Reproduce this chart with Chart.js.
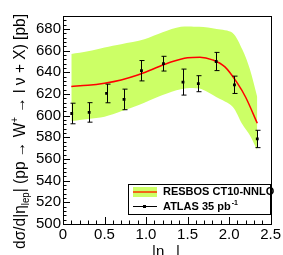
<!DOCTYPE html>
<html>
<head>
<meta charset="utf-8">
<script src="https://cdn.jsdelivr.net/npm/chart.js@4.4.0/dist/chart.umd.min.js"></script>
<style>
  html, body { margin: 0; padding: 0; background: #fff; }
  #wrap { width: 283px; height: 255px; position: relative; }
</style>
</head>
<body>
<div id="wrap"><canvas id="c"></canvas></div>
<script>
// ATLAS 35 pb-1 points
var etaBins = [0.105, 0.315, 0.525, 0.735, 0.945, 1.21, 1.445, 1.63, 1.845, 2.065, 2.34];
var xsec    = [602, 603, 620.5, 615, 641.5, 648, 631, 629.5, 650, 628.5, 578.5];
var xsecErr = [9.5, 9, 8.6, 9.5, 9.4, 6.8, 12, 7.4, 8.4, 8, 8];

// RESBOS CT10-NNLO central curve
var curveEta = [0.1, 0.3, 0.5, 0.7, 0.9, 1.1, 1.3, 1.5, 1.65, 1.8, 1.95, 2.1, 2.2, 2.34];
var curveVal = [627, 628, 630, 633, 637.5, 643.5, 649.5, 653.5, 654, 651.5, 645, 630, 617, 593];

// RESBOS uncertainty band
var bandEta = [0.1, 0.3, 0.5, 0.7, 0.98, 1.2, 1.42, 1.64, 1.85, 2.04, 2.16, 2.25, 2.34];
var bandHi  = [657, 659.5, 663, 666, 670.5, 677, 682, 682, 680, 676.5, 661, 643, 617];
var bandLo  = [595, 597, 599, 604, 612, 619, 624.5, 625, 617, 608.5, 592, 582, 568];

var xTicks = [0, 0.5, 1, 1.5, 2, 2.5];
var yTicks = [500, 520, 540, 560, 580, 600, 620, 640, 660, 680];

function pts(xs, ys) {
    return xs.map(function(x, i) { return {x: x, y: ys[i]} })
}

var bandGreen = '#ccff66';
var font = '"Liberation Sans", Arial, sans-serif';

var rootStyle = {
    id: 'rootStyle',
    afterDatasetsDraw: function(chart) {
        var ctx = chart.ctx, a = chart.chartArea;
        var xs = chart.scales.x, ys = chart.scales.y;
        ctx.save();
        // error bars
        ctx.strokeStyle = '#000';
        ctx.lineWidth = 1;
        etaBins.forEach(function(e, i) {
            var px = Math.round(xs.getPixelForValue(e)) + 0.5;
            var top = ys.getPixelForValue(xsec[i] + xsecErr[i]);
            var bot = ys.getPixelForValue(xsec[i] - xsecErr[i]);
            ctx.beginPath();
            ctx.moveTo(px, top); ctx.lineTo(px, bot);
            ctx.moveTo(px - 2, top); ctx.lineTo(px + 3, top);
            ctx.moveTo(px - 2, bot); ctx.lineTo(px + 3, bot);
            ctx.stroke();
        });
        // frame
        ctx.strokeRect(Math.round(a.left) + 0.5, Math.round(a.top) + 0.5,
                       Math.round(a.right - a.left), Math.round(a.bottom - a.top));
        // ticks inside the frame
        ctx.beginPath();
        for (var v = 500; v <= 692; v += 4) {
            var py = Math.round(ys.getPixelForValue(v)) + 0.5;
            var len = (v % 20 === 0) ? 7 : 3.5;
            ctx.moveTo(a.left, py); ctx.lineTo(a.left + len, py);
        }
        for (var k = 0; k <= 25; k++) {
            var px = Math.round(xs.getPixelForValue(k / 10)) + 0.5;
            var lenx = (k % 5 === 0) ? 7 : 3.5;
            ctx.moveTo(px, a.bottom); ctx.lineTo(px, a.bottom - lenx);
        }
        ctx.stroke();

        // legend box
        var lx = 128, ly = 184, lw = 142, lh = 30;
        ctx.fillStyle = '#fff';
        ctx.fillRect(lx, ly, lw, lh);
        ctx.strokeRect(lx + 0.5, ly + 0.5, lw, lh);
        ctx.fillStyle = bandGreen;
        ctx.fillRect(133, 187, 24, 10);
        ctx.strokeStyle = '#ff3300';
        ctx.lineWidth = 1.5;
        ctx.beginPath(); ctx.moveTo(133, 192); ctx.lineTo(157, 192); ctx.stroke();
        ctx.strokeStyle = '#000';
        ctx.lineWidth = 1;
        ctx.beginPath(); ctx.moveTo(133, 206.5); ctx.lineTo(157, 206.5); ctx.stroke();
        ctx.fillStyle = '#000';
        ctx.fillRect(143, 205, 3, 3);
        ctx.font = 'bold 11px ' + font;
        ctx.textBaseline = 'middle';
        ctx.textAlign = 'left';
        ctx.fillText('RESBOS CT10-NNLO', 163, 192);
        ctx.fillText('ATLAS 35 pb', 163, 207);
        var w = ctx.measureText('ATLAS 35 pb').width;
        ctx.font = 'bold 7px ' + font;
        ctx.fillText('-1', 163 + w + 1, 203);

        // x title
        ctx.font = '15px ' + font;
        ctx.textBaseline = 'alphabetic';
        ctx.fillText('|\u03b7', 152, 256);
        ctx.fillText('|', 176, 256);

        // y title, rotated, with sub/superscripts
        var parts = [
            ['d\u03c3/d|\u03b7', 16, 0],
            ['lep', 10, 4],
            ['| (pp \u2192 W', 16, 0],
            ['+', 10, -7],
            [' \u2192 l \u03bd + X) [pb]', 16, 0]
        ];
        var total = 0;
        parts.forEach(function(p) {
            ctx.font = p[1] + 'px ' + font;
            total += ctx.measureText(p[0]).width;
        });
        ctx.translate(25, 249);
        ctx.rotate(-Math.PI / 2);
        ctx.scale(235 / total, 1);
        var cx = 0;
        parts.forEach(function(p) {
            ctx.font = p[1] + 'px ' + font;
            ctx.fillText(p[0], cx, p[2]);
            cx += ctx.measureText(p[0]).width;
        });
        ctx.restore();
    }
};

var ctx = document.getElementById('c').getContext('2d');
new Chart(ctx, {
    type: 'line',
    data: {
        datasets: [{
            label: 'band hi',
            data: pts(bandEta, bandHi),
            borderWidth: 0,
            pointRadius: 0,
            backgroundColor: bandGreen,
            fill: '+1',
            tension: 0.3,
            order: 3
        }, {
            label: 'band lo',
            data: pts(bandEta, bandLo),
            borderWidth: 0,
            pointRadius: 0,
            fill: false,
            tension: 0.3,
            order: 3
        }, {
            label: 'RESBOS CT10-NNLO',
            data: pts(curveEta, curveVal),
            borderColor: '#ff0000',
            borderWidth: 1.5,
            pointRadius: 0,
            fill: false,
            cubicInterpolationMode: 'monotone',
            order: 2
        }, {
            label: 'ATLAS 35 pb-1',
            data: pts(etaBins, xsec),
            showLine: false,
            pointStyle: 'rect',
            pointRadius: 2,
            backgroundColor: '#000',
            borderColor: '#000',
            borderWidth: 0,
            order: 1
        }]
    },
    options: {
        responsive: true,
        maintainAspectRatio: false,
        animation: false,
        layout: { padding: { top: 16, right: 11, left: 0, bottom: 0 } },
        plugins: { legend: { display: false }, tooltip: { enabled: false } },
        scales: {
            x: {
                type: 'linear',
                min: 0, max: 2.5,
                grid: { display: false, drawTicks: false },
                border: { display: false },
                afterBuildTicks: function(s) { s.ticks = xTicks.map(function(v) { return {value: v} }) },
                afterFit: function(s) { s.height = 31 },
                ticks: {
                    color: '#000', padding: 2, maxRotation: 0, autoSkip: false,
                    font: { family: font, size: 15 }
                }
            },
            y: {
                min: 500, max: 692,
                grid: { display: false, drawTicks: false },
                border: { display: false },
                afterBuildTicks: function(s) { s.ticks = yTicks.map(function(v) { return {value: v} }) },
                afterFit: function(s) { s.width = 63 },
                ticks: {
                    color: '#000', padding: 2, autoSkip: false,
                    font: { family: font, size: 15 }
                }
            }
        }
    },
    plugins: [rootStyle]
});
</script>
</body>
</html>
